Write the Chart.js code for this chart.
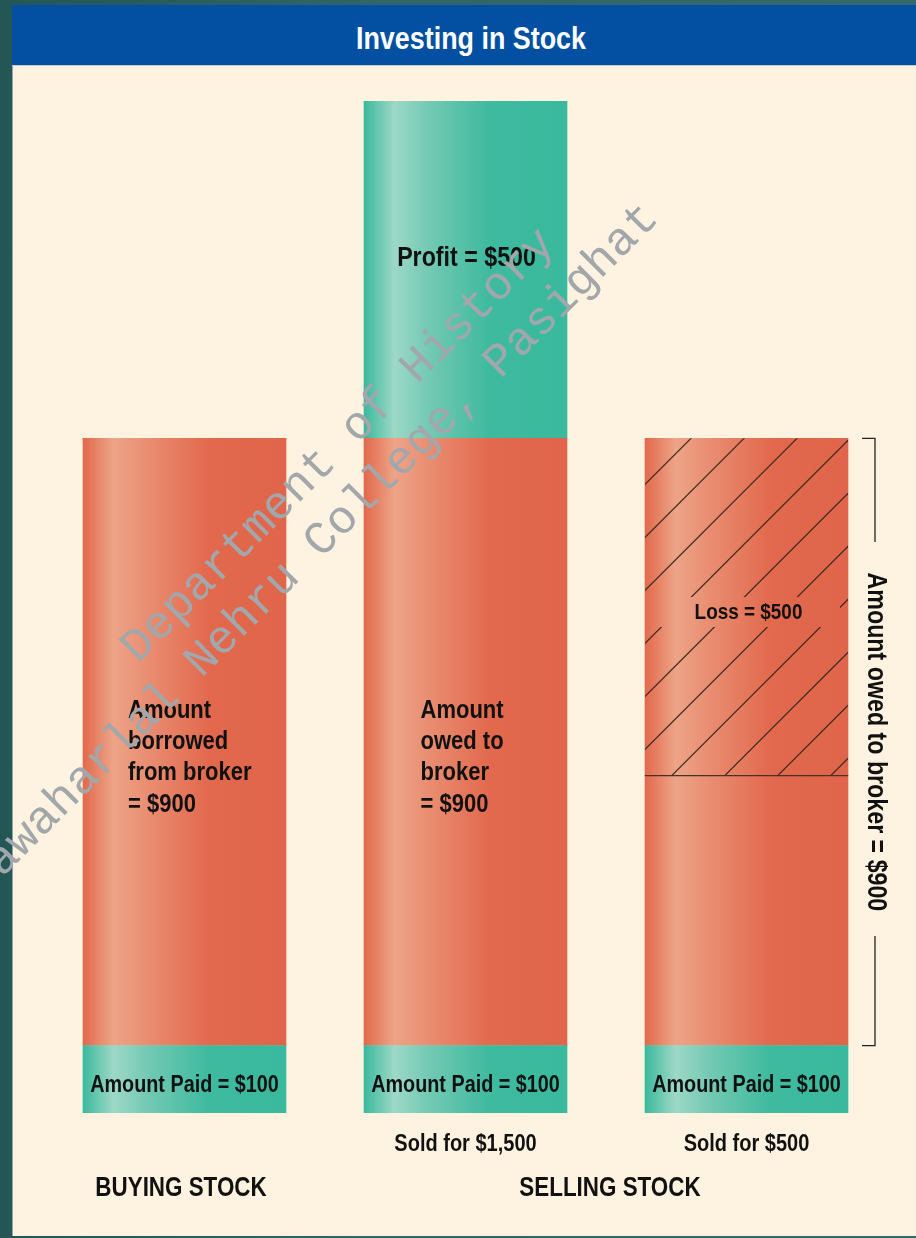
<!DOCTYPE html>
<html>
<head>
<meta charset="utf-8">
<script src="https://cdn.jsdelivr.net/npm/chart.js@4.4.1/dist/chart.umd.min.js"></script>
<style>
  html, body { margin: 0; padding: 0; }
  body {
    width: 916px; height: 1238px; position: relative; overflow: hidden;
    background: linear-gradient(90deg, #245656, #2e6666 40%, #336a6a);
  }
  #panel {
    position: absolute; left: 12px; top: 5px; width: 904px; height: 1231px;
    background: #fef3e0; border-left: 1px solid #8fa3b0;
  }
  #titlebar {
    position: absolute; left: 12px; top: 5px; width: 904px; height: 60px;
    background: #0350a2; border-bottom: 1px solid #c9c9c9;
  }
  #titlebar span {
    position: absolute; left: 0; right: 0; top: 15px; text-align: center;
    transform: scaleX(0.84); margin-left: 14px;
    font: bold 32px/36px "Liberation Sans", Arial, sans-serif; color: #fff;
  }
  canvas { position: absolute; left: 0; top: 0; }
</style>
</head>
<body>
<div id="panel"></div>
<div id="titlebar"><span>Investing in Stock</span></div>
<canvas id="chart" width="916" height="1238"></canvas>
<script>
// values
const categories = ["", "Sold for $1,500", "Sold for $500"];
const amountPaid = [100, 100, 100];
const owedToBroker = [900, 900, 400];
const profit = [0, 500, 0];
const loss = [0, 0, 500];

const paidLabels = ["Amount Paid = $100", "Amount Paid = $100", "Amount Paid = $100"];
const brokerLabels = [
  ["Amount", "borrowed", "from broker", "= $900"],
  ["Amount", "owed to", "broker", "= $900"],
  [],
];
const profitLabels = ["", "Profit = $500", ""];
const lossLabels = ["", "", "Loss = $500"];
const groupLabels = ["BUYING STOCK", "SELLING STOCK"];
const groupIndexes = [[0], [1, 2]];
const bracketLabel = "Amount owed to broker = $900";
const watermarkLines = ["Department of History", "Jawaharlal Nehru College, Pasighat"];

const orangeStops = [[0, "#e2694c"], [0.15, "#eda487"], [0.32, "#e98d71"], [0.62, "#e2694d"], [1, "#e0654a"]];
const greenStops = [[0, "#3bb99d"], [0.15, "#9dd8c6"], [0.32, "#73c9b3"], [0.62, "#3eba9f"], [1, "#39b99d"]];

function barGradient(context, stops) {
  const chart = context.chart;
  if (!chart.chartArea) return stops[stops.length - 1][1];
  const cx = chart.scales.x.getPixelForValue(context.dataIndex);
  const g = chart.ctx.createLinearGradient(cx - 101.5, 0, cx + 101.5, 0);
  stops.forEach((s) => g.addColorStop(s[0], s[1]));
  return g;
}

function drawText(ctx, text, x, y, size, opts = {}) {
  ctx.save();
  ctx.translate(x, y);
  if (opts.rotate) ctx.rotate(opts.rotate);
  ctx.scale(opts.sx || 0.86, 1);
  ctx.font = "bold " + size + 'px "Liberation Sans", Arial, sans-serif';
  ctx.textAlign = opts.align || "center";
  ctx.textBaseline = "middle";
  ctx.fillStyle = opts.color || "#111";
  ctx.fillText(text, 0, 0);
  ctx.restore();
}

function barProps(chart, dsIndex, i) {
  return chart.getDatasetMeta(dsIndex).data[i].getProps(["x", "y", "base", "width"], true);
}

const labelsPlugin = {
  id: "segmentLabels",
  afterDatasetsDraw(chart) {
    const ctx = chart.ctx;
    const area = chart.chartArea;

    // hatching on the loss part
    lossLabels.forEach((lab, i) => {
      if (!loss[i]) return;
      const b = barProps(chart, 3, i);
      const left = b.x - b.width / 2, right = b.x + b.width / 2;
      const midY = (b.y + b.base) / 2 + 6;
      ctx.save();
      ctx.beginPath();
      ctx.rect(left, b.y, b.width, b.base - b.y);
      ctx.rect(right - 8, midY - 16, -(b.width - 13), 30);
      ctx.clip("evenodd");
      ctx.strokeStyle = "#3b2a22";
      ctx.lineWidth = 1.2;
      for (let c = left + b.y + 46 - 53 * 10; c < right + b.base + 60; c += 53) {
        ctx.beginPath();
        ctx.moveTo(left - 10, c - left + 10);
        ctx.lineTo(right + 10, c - right - 10);
        ctx.stroke();
      }
      ctx.restore();
      ctx.save();
      ctx.strokeStyle = "#4a3028";
      ctx.lineWidth = 1.3;
      ctx.beginPath();
      ctx.moveTo(left, b.base);
      ctx.lineTo(right, b.base);
      ctx.stroke();
      ctx.restore();
      drawText(ctx, lab, b.x + 2, midY, 22);
    });

    paidLabels.forEach((lab, i) => {
      const b = barProps(chart, 0, i);
      drawText(ctx, lab, b.x, (b.y + b.base) / 2 + 6, 23);
    });

    const brokerOffsets = [-56.5, -45, 0];
    brokerLabels.forEach((lines, i) => {
      const b = barProps(chart, 1, i);
      const mid = (b.y + b.base) / 2;
      lines.forEach((line, j) => {
        drawText(ctx, line, b.x + brokerOffsets[i], mid - 31 + j * 31.3, 25, { align: "left", sx: 0.88 });
      });
    });

    profitLabels.forEach((lab, i) => {
      if (!lab) return;
      const b = barProps(chart, 2, i);
      drawText(ctx, lab, b.x + 1, (b.y + b.base) / 2 - 11, 27);
    });

    // category labels under the bars
    categories.forEach((lab, i) => {
      if (!lab) return;
      drawText(ctx, lab, chart.scales.x.getPixelForValue(i), area.bottom + 32, 23, { sx: 0.87 });
    });

    const groupShift = [-3.5, 4];
    groupLabels.forEach((lab, g) => {
      const xs = groupIndexes[g].map((i) => chart.scales.x.getPixelForValue(i));
      const cx = (Math.min(...xs) + Math.max(...xs)) / 2;
      drawText(ctx, lab, cx + groupShift[g], area.bottom + 75, 28, { sx: 0.8 });
    });

    // bracket for the amount owed on the last bar
    const yScale = chart.scales.y;
    const last = categories.length - 1;
    const top = yScale.getPixelForValue(amountPaid[last] + owedToBroker[last] + loss[last]);
    const bottom = yScale.getPixelForValue(amountPaid[last]);
    const bx = area.right - 12;
    const mid = (top + bottom) / 2;
    ctx.save();
    ctx.strokeStyle = "#222";
    ctx.lineWidth = 1.3;
    ctx.beginPath();
    ctx.moveTo(bx - 13, top); ctx.lineTo(bx, top); ctx.lineTo(bx, mid - 200);
    ctx.moveTo(bx, mid + 194); ctx.lineTo(bx, bottom); ctx.lineTo(bx - 13, bottom);
    ctx.stroke();
    ctx.restore();
    drawText(ctx, bracketLabel, bx, mid, 27, { rotate: Math.PI / 2 });
  },
  afterDraw(chart) {
    const ctx = chart.ctx;
    const starts = [[138, 664], [-18, 898]];
    ctx.save();
    ctx.font = '47px "Liberation Mono", "DejaVu Sans Mono", monospace';
    ctx.fillStyle = "#a2a7ac";
    ctx.textBaseline = "alphabetic";
    watermarkLines.forEach((line, i) => {
      ctx.save();
      ctx.translate(starts[i][0], starts[i][1]);
      ctx.rotate(-Math.PI / 4);
      ctx.fillText(line, 0, 0);
      ctx.restore();
    });
    ctx.restore();
  },
};

new Chart(document.getElementById("chart").getContext("2d"), {
  type: "bar",
  data: {
    labels: categories,
    datasets: [
      { label: "Amount Paid", data: amountPaid, backgroundColor: (c) => barGradient(c, greenStops) },
      { label: "Owed to broker", data: owedToBroker, backgroundColor: (c) => barGradient(c, orangeStops) },
      { label: "Profit", data: profit, backgroundColor: (c) => barGradient(c, greenStops) },
      { label: "Loss", data: loss, backgroundColor: (c) => barGradient(c, orangeStops) },
    ],
  },
  options: {
    responsive: false,
    animation: false,
    devicePixelRatio: 1,
    layout: { padding: { left: 44, right: 29, top: 101, bottom: 125 } },
    datasets: { bar: { barThickness: 203, borderWidth: 0 } },
    scales: {
      x: { stacked: true, display: false },
      y: { stacked: true, display: false, min: 0, max: 1500 },
    },
    plugins: { legend: { display: false }, tooltip: { enabled: false } },
  },
  plugins: [labelsPlugin],
});
</script>
</body>
</html>
